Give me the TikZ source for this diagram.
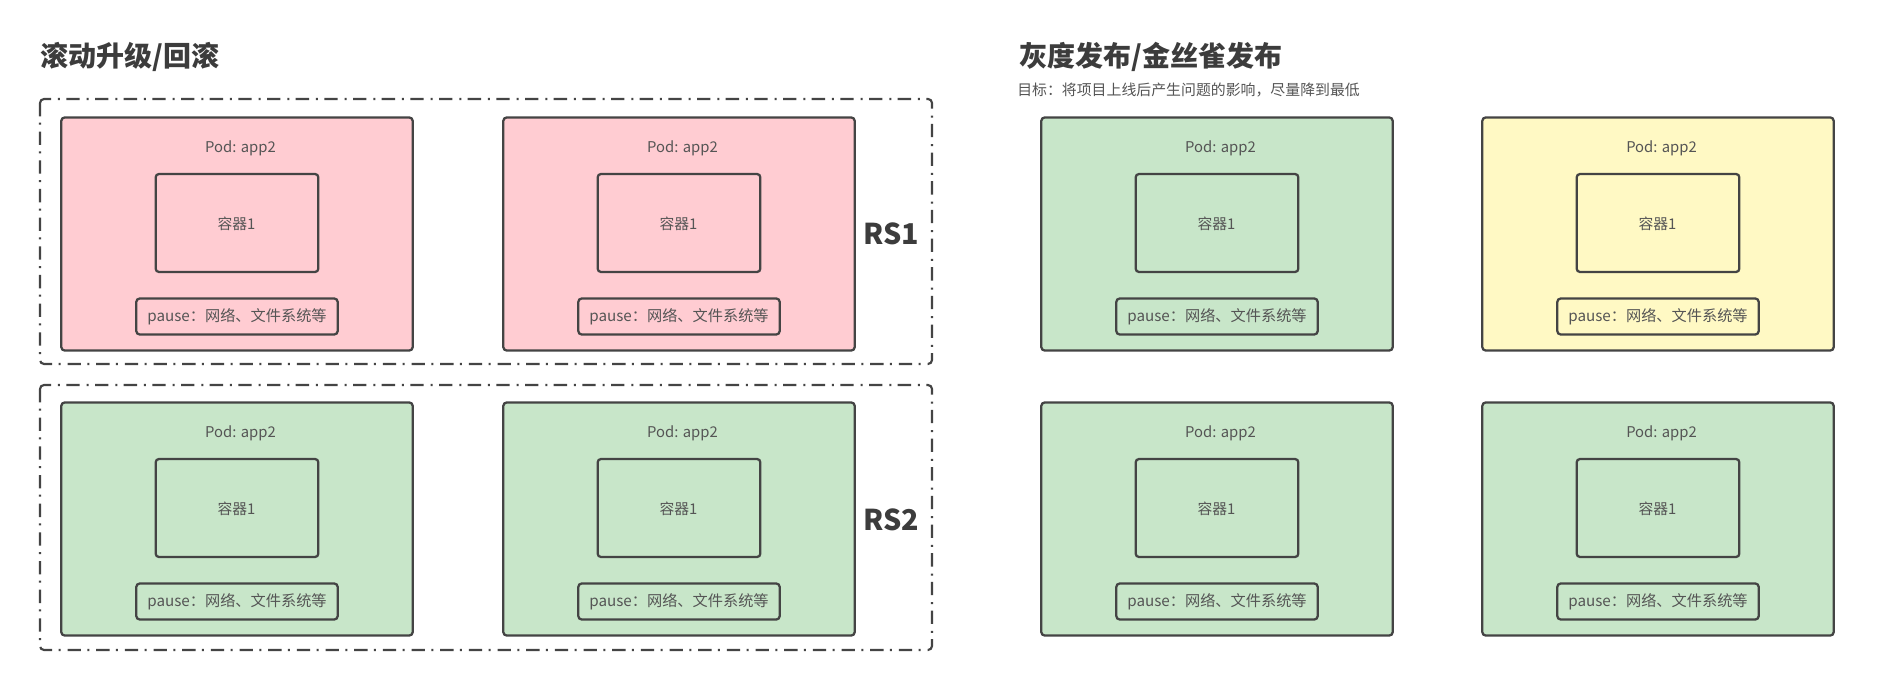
\documentclass[tikz,border=0pt]{standalone}
\usepackage{fontspec}
\setmainfont{Noto Sans CJK SC}
\usetikzlibrary{calc}
\definecolor{edge}{HTML}{444444}
\definecolor{txt}{HTML}{555555}
\definecolor{head}{HTML}{3C3C3C}
\definecolor{podpink}{HTML}{FFCCD2}
\definecolor{podgreen}{HTML}{C8E6C9}
\definecolor{podyellow}{HTML}{FFF9C4}
\tikzset{
  x=0.75pt,y=-0.75pt,
  box/.style={draw=edge,line width=1.7pt,rounded corners=2.5pt,inner sep=0pt},
  podbox/.style={box,minimum width=263.5pt,minimum height=174.8pt},
  ctrbox/.style={box,minimum width=122pt,minimum height=73.5pt},
  pausebox/.style={box,minimum width=151pt,minimum height=27pt},
  label/.style={text=txt,font=\fontsize{11.1}{13}\selectfont,inner sep=0pt},
  pauselabel/.style={text=txt,font=\fontsize{11.4}{13}\selectfont,inner sep=0pt},
  sublabel/.style={text=txt,font=\fontsize{11.17}{13}\selectfont,inner sep=0pt,anchor=west},
  group/.style={draw=edge,line width=1.6pt,rounded corners=3pt,dash pattern=on 10pt off 4.8pt on 1.5pt off 5.2pt},
  title/.style={text=head,font=\fontsize{21}{25}\selectfont\bfseries,inner sep=0pt,anchor=west},
  rs/.style={text=head,font=\fontsize{21.5}{26}\selectfont\bfseries,inner sep=0pt},
}
\newcommand{\podblock}[4]{%
  \node[podbox,fill=#4] (#1) at (#2,#3) {};
  \node[label] (#1t) at ($(#1.center)+(3.5,-86)$) {Pod: app2};
  \node[ctrbox,fill=#4] (#1c) at ($(#1.center)+(0,-11)$) {};
  \node[label] at ($(#1c.center)+(-0.5,0.5)$) {容器1};
  \node[pausebox,fill=#4] (#1p) at ($(#1.center)+(0,82.5)$) {};
  \node[pauselabel] at ($(#1p.center)+(0,0.5)$) {pause：网络、文件系统等};
}
\begin{document}
\begin{tikzpicture}
\useasboundingbox[fill=white] (0,0) rectangle (1887,680);
\node[title] (t1) at (40,57) {滚动升级/回滚};
\node[title] (t2) at (1019,57) {灰度发布/金丝雀发布};
\node[sublabel] (sub) at (1017,90.5) {目标：将项目上线后产生问题的影响，尽量降到最低};
\draw[group] (40,99) rectangle (932,364);
\draw[group] (40,385) rectangle (932,650);
\podblock{a}{237}{234}{podpink}
\podblock{b}{679}{234}{podpink}
\podblock{c}{1217}{234}{podgreen}
\podblock{d}{1658}{234}{podyellow}
\podblock{e}{237}{519}{podgreen}
\podblock{f}{679}{519}{podgreen}
\podblock{g}{1217}{519}{podgreen}
\podblock{h}{1658}{519}{podgreen}
\node[rs] (rs1) at (891,234) {RS1};
\node[rs] (rs2) at (891,520) {RS2};
\end{tikzpicture}
\end{document}
